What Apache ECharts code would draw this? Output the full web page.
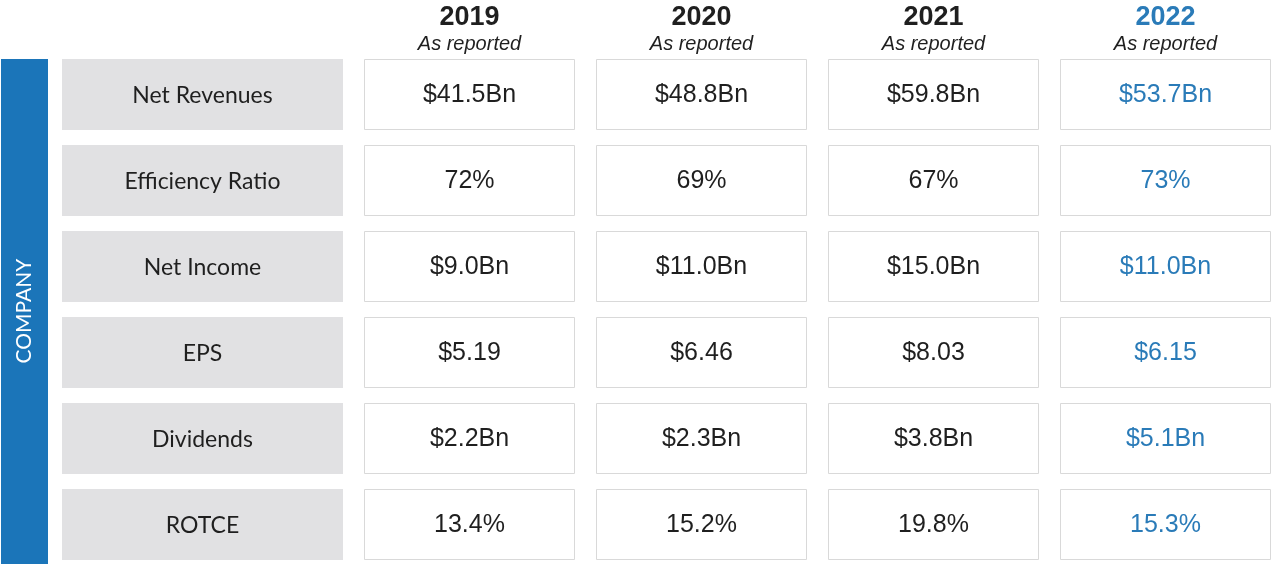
<!DOCTYPE html>
<html>
<head>
<meta charset="utf-8">
<script src="https://cdn.jsdelivr.net/npm/echarts@6/dist/echarts.min.js"></script>
<style>html,body{margin:0;padding:0;background:#fff}#c{width:1272px;height:564px}</style>
</head>
<body>
<div id="c"></div>
<script>
const years = ['2019', '2020', '2021', '2022'];
const subTitle = 'As reported';
const metrics = ['Net Revenues', 'Efficiency Ratio', 'Net Income', 'EPS', 'Dividends', 'ROTCE'];
const values2019 = ['$41.5Bn', '72%', '$9.0Bn', '$5.19', '$2.2Bn', '13.4%'];
const values2020 = ['$48.8Bn', '69%', '$11.0Bn', '$6.46', '$2.3Bn', '15.2%'];
const values2021 = ['$59.8Bn', '67%', '$15.0Bn', '$8.03', '$3.8Bn', '19.8%'];
const values2022 = ['$53.7Bn', '73%', '$11.0Bn', '$6.15', '$5.1Bn', '15.3%'];
const sideLabel = 'COMPANY';

const BLUE = '#1b75b9';
const TEXTBLUE = '#2a7bb8';
const DARK = '#1f1f1f';
const columns = [values2019, values2020, values2021, values2022];

const labelData = metrics.map((m, i) => [0, i, m]);
const valueData = [];
columns.forEach((col, ci) => col.forEach((v, ri) => valueData.push([ci, ri, v])));

const ROW_TOP = 94.5;   // centre of first row
const ROW_PITCH = 86;
const COL_PITCH = 232;

const chart = echarts.init(document.getElementById('c'), null, {renderer: 'canvas'});
chart.setOption({
  animation: false,
  backgroundColor: '#fff',
  graphic: [
    {type: 'rect', shape: {x: 1, y: 59, width: 47, height: 510}, style: {fill: BLUE}, silent: true},
    {type: 'text', x: 24, y: 311, rotation: Math.PI / 2,
     style: {text: sideLabel, fill: '#fff', font: '21px Lato', align: 'center', verticalAlign: 'middle'}}
  ],
  grid: [
    {left: 62, top: ROW_TOP, width: 281, height: ROW_PITCH * (metrics.length - 1)},
    {left: 469.5, top: ROW_TOP, width: COL_PITCH * (years.length - 1), height: ROW_PITCH * (metrics.length - 1)}
  ],
  xAxis: [
    {gridIndex: 0, type: 'category', data: ['Metric'], show: false},
    {gridIndex: 1, type: 'value', min: 0, max: years.length - 1, interval: 1, position: 'top',
     splitLine: {show: false}, axisLine: {show: false}, axisTick: {show: false},
     axisLabel: {
       margin: 41, showMinLabel: true, showMaxLabel: true,
       formatter: function (v) {
         const y = years[Math.round(v)];
         return (Math.round(v) === years.length - 1 ? '{yb|' + y + '}' : '{y|' + y + '}') + '\n{s|' + subTitle + '}';
       },
       rich: {
         y: {fontFamily: 'Liberation Sans', fontWeight: 'bold', fontSize: 27, color: DARK, lineHeight: 36},
         yb: {fontFamily: 'Liberation Sans', fontWeight: 'bold', fontSize: 27, color: TEXTBLUE, lineHeight: 36},
         s: {fontFamily: 'Liberation Sans', fontStyle: 'italic', fontSize: 20, color: DARK, lineHeight: 18}
       }
     }}
  ],
  yAxis: [
    {gridIndex: 0, type: 'value', min: 0, max: metrics.length - 1, inverse: true, show: false},
    {gridIndex: 1, type: 'value', min: 0, max: metrics.length - 1, inverse: true, show: false}
  ],
  series: [
    {
      type: 'custom', xAxisIndex: 0, yAxisIndex: 0, data: labelData,
      renderItem: function (params, api) {
        const c = api.coord([api.value(0), api.value(1)]);
        const w = 281, h = 71;
        return {
          type: 'group',
          children: [
            {type: 'rect', shape: {x: Math.round(c[0] - w / 2), y: Math.round(c[1] - h / 2), width: w, height: h},
             style: {fill: '#e1e1e3'}},
            {type: 'text', x: c[0], y: c[1] + 1,
             style: {text: metrics[api.value(1)], fill: DARK, font: '23px Lato', align: 'center', verticalAlign: 'middle'}}
          ]
        };
      }
    },
    {
      type: 'custom', xAxisIndex: 1, yAxisIndex: 1, data: valueData,
      renderItem: function (params, api) {
        const ci = api.value(0), ri = api.value(1);
        const c = api.coord([ci, ri]);
        const w = 211, h = 71;
        const txt = columns[ci][ri];
        return {
          type: 'group',
          children: [
            {type: 'rect', shape: {x: Math.round(c[0] - w / 2) + 0.5, y: Math.round(c[1] - h / 2) + 0.5, width: w - 1, height: h - 1},
             style: {fill: '#fff', stroke: '#d9d9d9', lineWidth: 1}},
            {type: 'text', x: c[0], y: c[1] + 1,
             style: {text: txt, fill: ci === years.length - 1 ? TEXTBLUE : DARK, font: '25px "Liberation Sans"', align: 'center', verticalAlign: 'middle'}}
          ]
        };
      }
    }
  ]
});
</script>
</body>
</html>
